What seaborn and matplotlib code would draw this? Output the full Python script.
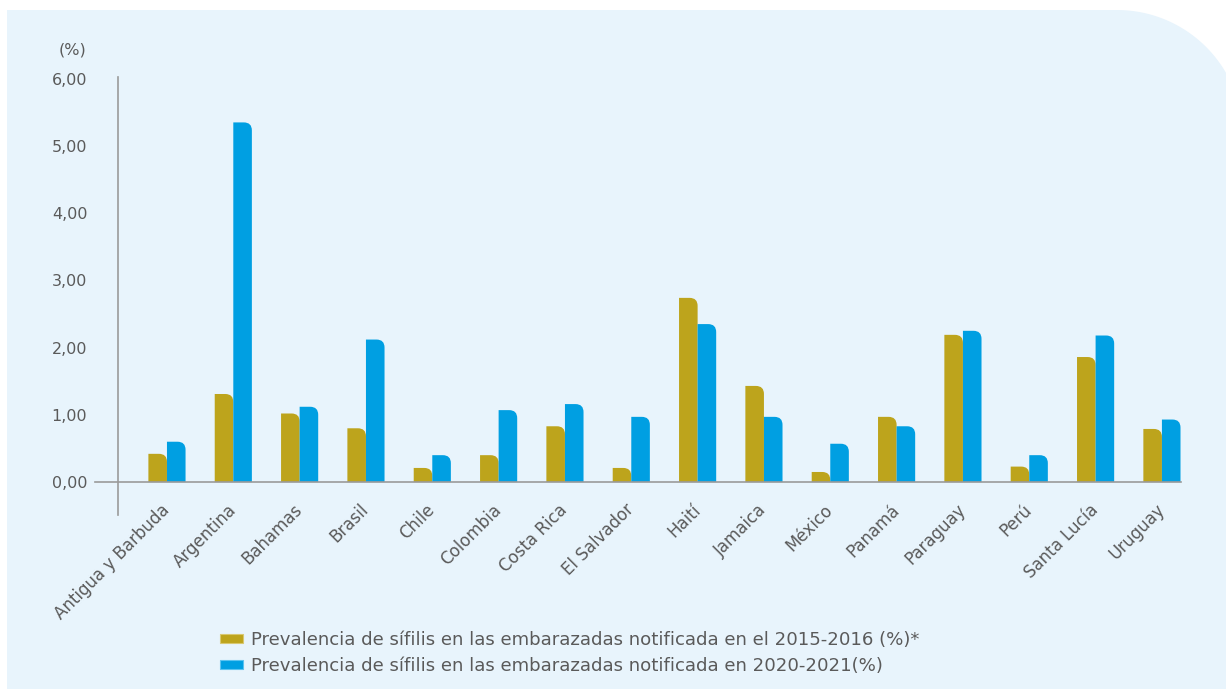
import numpy as np
import pandas as pd
import matplotlib
matplotlib.use("Agg")
import matplotlib.pyplot as plt
import seaborn as sns
from matplotlib.path import Path
from matplotlib.patches import PathPatch, Patch

countries = ["Antigua y Barbuda", "Argentina", "Bahamas", "Brasil", "Chile", "Colombia",
             "Costa Rica", "El Salvador", "Haití", "Jamaica", "México", "Panamá",
             "Paraguay", "Perú", "Santa Lucía", "Uruguay"]
prev_2015_2016 = [0.42, 1.31, 1.02, 0.80, 0.21, 0.40, 0.83, 0.21, 2.74, 1.43, 0.15, 0.97,
                  2.19, 0.23, 1.86, 0.79]
prev_2020_2021 = [0.60, 5.35, 1.12, 2.12, 0.40, 1.07, 1.16, 0.97, 2.35, 0.97, 0.57, 0.83,
                  2.25, 0.40, 2.18, 0.93]
series_labels = ["Prevalencia de sífilis en las embarazadas notificada en el 2015-2016 (%)*",
                 "Prevalencia de sífilis en las embarazadas notificada en 2020-2021(%)"]
ytick_values = [0, 1, 2, 3, 4, 5, 6]
ytick_labels = ["0,00", "1,00", "2,00", "3,00", "4,00", "5,00", "6,00"]
y_unit_label = "(%)"

GOLD = "#BDA41C"
BLUE = "#009FE2"
PANEL = "#E8F4FC"
TEXT = "#5a5a5a"

sns.set_style("white")
plt.rcParams["font.family"] = ["DejaVu Sans"]

df = pd.DataFrame({
    "country": countries * 2,
    "value": prev_2015_2016 + prev_2020_2021,
    "series": [series_labels[0]] * len(countries) + [series_labels[1]] * len(countries),
})

W, H = 1226, 689
fig = plt.figure(figsize=(W / 100, H / 100), dpi=100)
fig.patch.set_facecolor("white")

# background panel with rounded top-right corner (figure pixel coords -> fractions)
R = 126.0
cx, cy = 1117.0, 10.0 + R
theta = np.linspace(np.pi / 2, 0, 60)
arc_x = cx + R * np.cos(theta)
arc_y = cy - R * np.sin(theta)
px = [7, 7] + list(arc_x) + [cx + R, 7]
py = [H + 5, 10] + list(arc_y) + [H + 5, H + 5]
verts = [(x / W, 1 - y / H) for x, y in zip(px, py)]
panel = PathPatch(Path(verts, closed=False), facecolor=PANEL, edgecolor="none",
                  transform=fig.transFigure, zorder=-10)
fig.add_artist(panel)

ax = fig.add_axes([95 / W, (H - 515) / H, (1180.5 - 95) / W, (515 - 76.7) / H])
ax.set_facecolor("none")

sns.barplot(data=df, x="country", y="value", hue="series", palette=[GOLD, BLUE],
            width=0.56, gap=0, saturation=1, ax=ax, legend=False, errorbar=None,
            linewidth=0)

ax.set_ylim(-0.49, 6.03)
ax.set_xlim(-1.085, 15.28)

# round the top-right corner of each bar
px_per_x = (1180.5 - 95) / (15.28 + 1.085)
px_per_y = (515 - 76.7) / (6.03 + 0.49)
rad_px = 8.0
for p in list(ax.patches):
    x0, y0 = p.get_x(), p.get_y()
    w, h = p.get_width(), p.get_height()
    if h <= 0:
        continue
    fc = p.get_facecolor()
    rx = min(rad_px / px_per_x, w * 0.5)
    ry = min(rad_px / px_per_y, h)
    x1, y1 = x0 + w, y0 + h
    v = [(x0, y0), (x0, y1), (x1 - rx, y1), (x1, y1), (x1, y1 - ry), (x1, y0), (x0, y0)]
    c = [Path.MOVETO, Path.LINETO, Path.LINETO, Path.CURVE3, Path.CURVE3, Path.LINETO,
         Path.CLOSEPOLY]
    newp = PathPatch(Path(v, c), facecolor=fc, edgecolor="none", zorder=2)
    p.remove()
    ax.add_patch(newp)

for s in ["top", "right"]:
    ax.spines[s].set_visible(False)
ax.spines["bottom"].set_position(("data", 0))
ax.spines["left"].set_position(("data", -0.74))
for s in ["bottom", "left"]:
    ax.spines[s].set_color("#9a9a9a")
    ax.spines[s].set_linewidth(1.2)

ax.set_yticks(ytick_values)
ax.set_yticklabels(ytick_labels)
ax.tick_params(axis="y", length=0, pad=22, labelsize=11.5, labelcolor=TEXT)
ax.tick_params(axis="x", length=0, pad=18, labelsize=12, labelcolor=TEXT)
plt.setp(ax.get_xticklabels(), rotation=45, ha="right", va="center", rotation_mode="anchor")
ax.set_xlabel("")
ax.set_ylabel("")
ax.grid(False)

fig.text(86 / W, 1 - 50 / H, y_unit_label, ha="right", va="center", fontsize=11.5, color=TEXT)

handles = [Patch(facecolor=GOLD, edgecolor="#D8C870", linewidth=0.8),
           Patch(facecolor=BLUE, edgecolor="#5CC3F0", linewidth=0.8)]
fig.legend(handles, series_labels, loc="upper left",
           bbox_to_anchor=(220 / W, 1 - 631 / H), frameon=False, fontsize=13.1,
           handlelength=1.27, handleheight=0.4, handletextpad=0.45, labelspacing=0.45,
           borderpad=0, borderaxespad=0, labelcolor=TEXT)

fig.savefig("out.png", dpi=100, facecolor="white")
